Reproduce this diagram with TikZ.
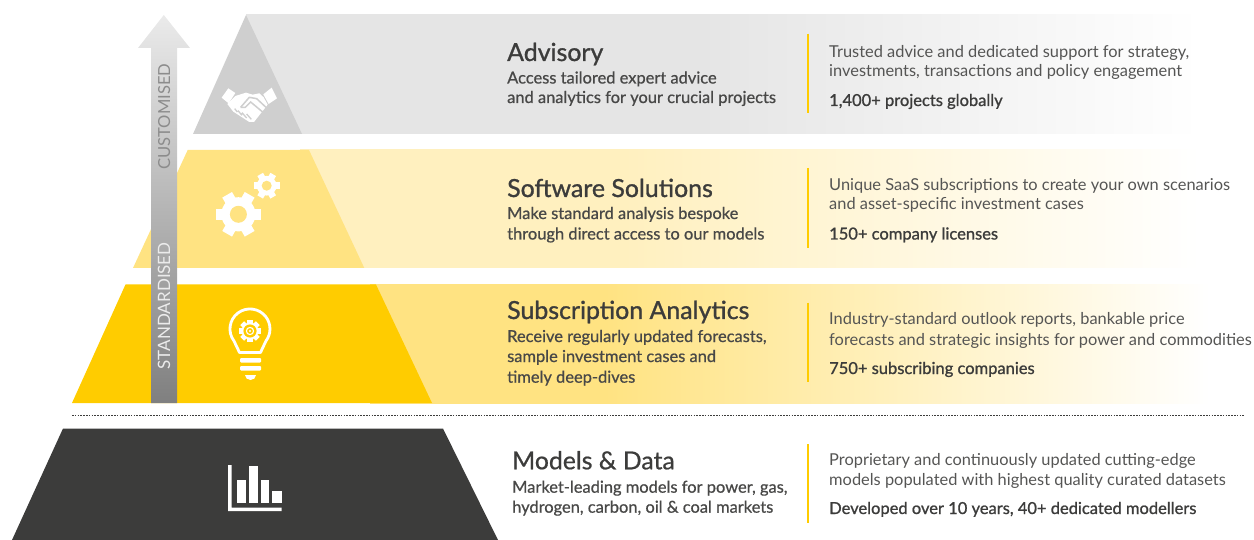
\documentclass[tikz,border=0pt]{standalone}
\usepackage{fontspec}
\setmainfont{Lato}
\newfontfamily\medfont[FakeBold=0.7]{Lato}
\newfontfamily\semifont[FakeBold=1.1]{Lato}
\usetikzlibrary{calc}
\definecolor{ink}{HTML}{3C3C3B}
\definecolor{bodyink}{HTML}{484847}
\definecolor{softink}{HTML}{555554}
\definecolor{sun}{HTML}{FFCC00}
\definecolor{sunmid}{HTML}{FFE382}
\definecolor{sunpale}{HTML}{FFF0BF}
\definecolor{greymid}{HTML}{CFCFCF}
\definecolor{greypale}{HTML}{E5E5E5}
\pgfdeclarehorizontalshading{greyband}{100bp}{color(0bp)=(greypale); color(25bp)=(greypale); color(48.8bp)=(greypale); color(75bp)=(white); color(100bp)=(white)}
\pgfdeclarehorizontalshading{paleband}{100bp}{color(0bp)=(sunpale); color(25bp)=(sunpale); color(43bp)=(sunpale); color(75bp)=(white); color(100bp)=(white)}
\pgfdeclarehorizontalshading{midband}{100bp}{color(0bp)=(sunmid); color(25bp)=(sunmid); color(39bp)=(sunmid); color(75bp)=(white); color(100bp)=(white)}
\tikzset{
  title/.style={anchor=base west,inner sep=0pt,text=ink,font=\semifont\fontsize{24.9}{24.9}\selectfont},
  lead/.style={anchor=base west,inner sep=0pt,text=bodyink,font=\medfont\fontsize{16.45}{16.45}\selectfont},
  detail/.style={anchor=base west,inner sep=0pt,text=softink,font=\fontsize{16.4}{16.4}\selectfont},
  fact/.style={anchor=base west,inner sep=0pt,text=ink,font=\semifont\fontsize{16.5}{16.5}\selectfont},
  rule/.style={draw=sun,line width=1.6pt},
  axislabel/.style={rotate=90,anchor=base west,inner sep=0pt,font=\fontsize{17}{17}\selectfont},
}
\newcommand{\gearicon}[6]{% x,y,outer,hole,bg,angles
  \fill[white] (#1,#2) circle ({#3*0.76});
  \foreach \a in {#6}{
    \fill[white,shift={(#1,#2)},rotate=\a] (-#3*0.25,-#3) rectangle (#3*0.25,0);
  }
  \fill[#5] (#1,#2) circle (#4);
}
\begin{document}
\begin{tikzpicture}[x=1pt,y=-1pt]
\useasboundingbox (0,0) rectangle (1254,540);
% bands
\shade[shading=greyband] (246,15) rectangle (1200,134);
\shade[shading=paleband] (300,150) rectangle (1200,268);
\shade[shading=midband] (370,284.5) rectangle (1210,403);
% pyramid
\fill[greymid] (246,15) -- (302,134) -- (193,134) -- cycle;
\fill[sunmid] (187.7,150) -- (309,150) -- (364.3,268) -- (133,268) -- cycle;
\fill[sun] (125.5,284.5) -- (376,284.5) -- (432,403) -- (72,403) -- cycle;
\fill[ink] (63,428.5) -- (443,428.5) -- (498,540) -- (12,540) -- cycle;
% arrow
\shade[top color=black!8,middle color=black!21,bottom color=black!50]
  (163.8,15) -- (190,48) -- (177,48) -- (177,403) -- (151,403) -- (151,48) -- (138,48) -- cycle;
\node[axislabel,text=black!45,font=\fontsize{16.6}{16.6}\selectfont] (custom) at (170,170) {CUSTOMISED};
\node[axislabel,text=black!8] (standard) at (170,369.5) {STANDARDISED};
% dotted divider
\coordinate (divL) at (72,415.7);
\coordinate (divR) at (1244,415.7);
\draw[ink,line width=0.8pt,dash pattern=on 1.6pt off 1.2pt] (divL) -- (divR);
% handshake
\begin{scope}[shift={(120,0)},x=0.3333pt,y=-0.3333pt]
  \fill[white] (305,293) -- (325,265) -- (346,279) -- (326,310) -- cycle;
  \fill[white] (430,283) -- (455,263) -- (471,295) -- (446,312) -- cycle;
  \fill[white] (346,288) -- (378,278) -- (398,284) -- (418,280) -- (431,292) -- (443,314) -- (402,366) -- (388,366) -- (340,335) -- (322,312) -- cycle;
  \draw[greymid,line width=1.5pt] (362,322) -- (388,292) -- (410,296) -- (438,322);
  \draw[greymid,line width=1.5pt] (362,322) -- (376,322) -- (392,306) -- (428,336);
  \draw[greymid,line width=1.3pt] (344,326) -- (352,336) (354,332) -- (366,346) (366,338) -- (380,354) (380,342) -- (394,358);
\end{scope}
% gears
\gearicon{238.4}{214.3}{22.5}{8.5}{sunmid}{30,90,150,210,270,330}
\gearicon{266.7}{185.7}{13}{5}{sunmid}{30,90,150,210,270,330}
% bulb
\draw[white,line width=2.8pt,line join=round] (239.5,352.5) -- (234,341)
  arc[start angle=143,end angle=397,radius=20] -- (260.5,352.5) -- cycle;
\gearicon{250}{331}{11}{6.6}{sun}{0,45,90,135,180,225,270,315}
\draw[white,line width=1.1pt] (250,331) circle (3.6);
\fill[white] (250,331) circle (1.2);
\fill[white,rounded corners=1pt] (240,358) rectangle (261,362.5);
\fill[white,rounded corners=1pt] (240,366) rectangle (261,370.5);
\fill[white] (245,375) -- (256,375) arc[start angle=0,end angle=180,x radius=5.5,y radius=5] -- cycle;
% chart
\fill[white] (228,465) -- (231.5,465) -- (231.5,507.5) -- (281.5,507.5) -- (281.5,511) -- (228,511) -- cycle;
\fill[white] (237,479.5) rectangle (246,503);
\fill[white] (249,465.5) rectangle (258,503);
\fill[white] (260.5,479.5) rectangle (269,503);
\fill[white] (272,491) rectangle (281.5,503);
% vertical rules
\coordinate (r1a) at (808,33.7); \coordinate (r1b) at (808,112.7);
\coordinate (r2a) at (808,168); \coordinate (r2b) at (808,248);
\coordinate (r3a) at (808,302.7); \coordinate (r3b) at (808,381.7);
\coordinate (r4a) at (808,444); \coordinate (r4b) at (808,523);
\draw[rule] (r1a) -- (r1b);
\draw[rule] (r2a) -- (r2b);
\draw[rule] (r3a) -- (r3b);
\draw[rule] (r4a) -- (r4b);
% text: Advisory
\node[title] (t1) at (507,61) {Advisory};
\node[lead] (l1a) at (507,83.5) {Access tailored expert advice};
\node[lead] (l1b) at (507,103) {and analytics for your crucial projects};
\node[detail] (d1a) at (829,57.5) {Trusted advice and dedicated support for strategy,};
\node[detail] (d1b) at (829,77) {investments, transactions and policy engagement};
\node[fact] (f1) at (829,106) {1,400+ projects globally};
% Software
\node[title] (t2) at (507,197) {Software Solutions};
\node[lead] (l2a) at (507,219) {Make standard analysis bespoke};
\node[lead] (l2b) at (507,239.5) {through direct access to our models};
\node[detail] (d2a) at (829,190.5) {Unique SaaS subscriptions to create your own scenarios};
\node[detail] (d2b) at (829,210) {and asset-specific investment cases};
\node[fact] (f2) at (829,239.5) {150+ company licenses};
% Subscription
\node[title] (t3) at (507,319) {Subscription Analytics};
\node[lead] (l3a) at (507,342) {Receive regularly updated forecasts,};
\node[lead] (l3b) at (507,362) {sample investment cases and};
\node[lead] (l3c) at (507,382.7) {timely deep-dives};
\node[detail] (d3a) at (829,325) {Industry-standard outlook reports, bankable price};
\node[detail] (d3b) at (829,345) {forecasts and strategic insights for power and commodities};
\node[fact] (f3) at (829,374) {750+ subscribing companies};
% Models
\node[title,font=\medfont\fontsize{24.8}{24.8}\selectfont] (t4) at (512,469.3) {Models \& Data};
\node[lead] (l4a) at (512,492.7) {Market-leading models for power, gas,};
\node[lead] (l4b) at (512,512.7) {hydrogen, carbon, oil \& coal markets};
\node[detail] (d4a) at (829,465) {Proprietary and continuously updated cutting-edge};
\node[detail] (d4b) at (829,485) {models populated with highest quality curated datasets};
\node[fact] (f4) at (829,514) {Developed over 10 years, 40+ dedicated modellers};
\end{tikzpicture}
\end{document}
